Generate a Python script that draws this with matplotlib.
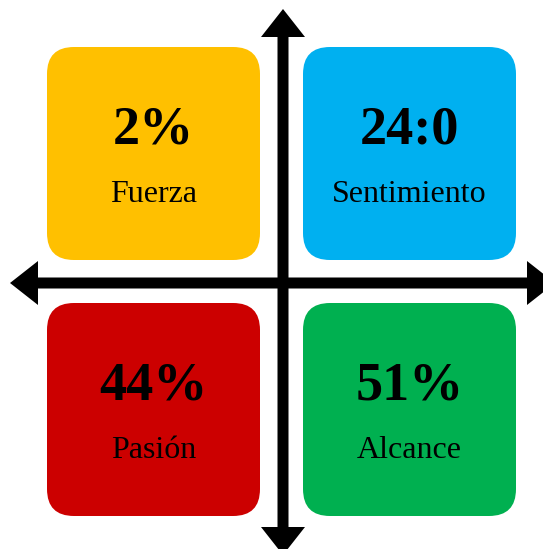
import matplotlib.pyplot as plt
from matplotlib.patches import FancyBboxPatch, FancyArrow

values = ['2%', '24:0', '44%', '51%']
labels = ['Fuerza', 'Sentimiento', 'Pasión', 'Alcance']
colors = ['#FFC000', '#00B0F0', '#CC0000', '#00B050']

# box top-left corners in pixels
boxes = [(47, 47), (303, 47), (47, 303), (303, 303)]
size = 213

fig = plt.figure(figsize=(5.43, 5.49), dpi=100)
ax = fig.add_axes([0, 0, 1, 1])
ax.set_xlim(0, 543)
ax.set_ylim(549, 0)
ax.axis('off')

for (x0, y0), v, lab, c in zip(boxes, values, labels, colors):
    ax.add_patch(FancyBboxPatch((x0, y0), size, size,
                                boxstyle='round,pad=0,rounding_size=27',
                                fc=c, ec='none'))
    ax.text(x0 + size / 2, y0 + 83, v, ha='center', va='center',
            fontsize=39, fontweight='bold', family='Liberation Serif')
    ax.text(x0 + size / 2, y0 + 148, lab, ha='center', va='center',
            fontsize=23, family='Liberation Serif')

cx, cy = 283, 283
for dx, dy in [(-273, 0), (272, 0), (0, -274), (0, 272)]:
    ax.add_patch(FancyArrow(cx, cy, dx, dy, width=11, head_width=44,
                            head_length=28, length_includes_head=True,
                            fc='black', ec='none'))

fig.savefig('out.png', dpi=100)
